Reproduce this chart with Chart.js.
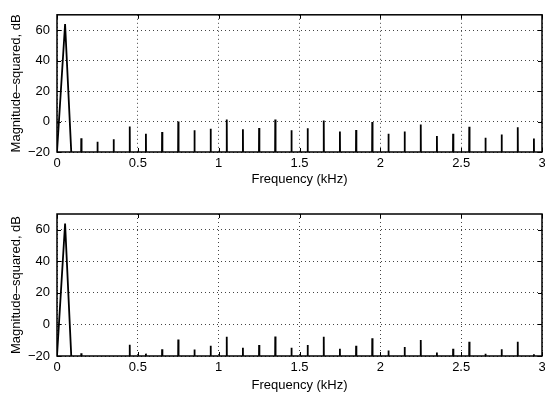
<!DOCTYPE html>
<html>
<head>
<meta charset="utf-8">
<script src="https://cdn.jsdelivr.net/npm/chart.js@4/dist/chart.umd.min.js"></script>
<style>
  html, body { margin: 0; padding: 0; background: #fff; }
  body { width: 545px; height: 396px; position: relative; overflow: hidden; }
  .box { position: absolute; left: 0; width: 545px; height: 198px; }
  #b1 { top: 0; }
  #b2 { top: 198px; }
</style>
</head>
<body>
<div class="box" id="b1"><canvas id="c1" width="545" height="198"></canvas></div>
<div class="box" id="b2"><canvas id="c2" width="545" height="198"></canvas></div>
<script>
// ---- data ----
const xTickLabels = [0, 0.5, 1, 1.5, 2, 2.5, 3];          // kHz
const yTickLabels = [-20, 0, 20, 40, 60];                 // dB
const lobeFreq = [0, 0.05, 0.1];                           // kHz, fundamental main lobe
const lobeDbTop = [-20, 64, -46];
const lobeDbBottom = [-20, 64, -46];
const harmFreq = [0.15, 0.25, 0.35, 0.45, 0.55, 0.65, 0.75, 0.85, 0.95, 1.05,
                  1.15, 1.25, 1.35, 1.45, 1.55, 1.65, 1.75, 1.85, 1.95, 2.05,
                  2.15, 2.25, 2.35, 2.45, 2.55, 2.65, 2.75, 2.85, 2.95];
const harmDbTop = [-11, -13.3, -11.6, -3.2, -8, -6.9, 0, -5.7, -4.8, 1.3,
                   -5, -4.2, 1.3, -5.7, -4.4, 0.6, -6.5, -5.5, -0.4, -8,
                   -6.5, -1.9, -9.5, -8, -3.4, -10.7, -8.6, -3.8, -11.2];
const harmDbBottom = [-18.3, -25, -25, -12.8, -18.5, -15.7, -9.6, -15.9, -13.5, -7.8,
                      -14.8, -13, -7.6, -14.8, -13, -7.8, -15.4, -13.5, -8.7, -16.5,
                      -14.3, -9.8, -17.8, -15.4, -10.9, -18.5, -15.7, -10.9, -18.9];
const yMin = -20, yMax = 70, xMin = 0, xMax = 3;
const noiseFloor = -40;        // spectrum floor (below visible range)
const spikeHalfWidth = 0.002;  // kHz

function buildSeries(lobeDb, harmDb) {
  const pts = lobeFreq.map((f, i) => ({ x: f, y: lobeDb[i] }));
  harmFreq.forEach((f, i) => {
    pts.push({ x: f - spikeHalfWidth, y: noiseFloor });
    pts.push({ x: f, y: harmDb[i] });
    pts.push({ x: f + spikeHalfWidth, y: noiseFloor });
  });
  return pts;
}

const FONT = { family: "'Liberation Sans', Arial, Helvetica, sans-serif", size: 13 };

const framePlugin = {
  id: 'frame',
  afterDatasetsDraw(chart) {
    const { ctx, chartArea: a, scales } = chart;
    ctx.save();
    ctx.strokeStyle = '#000';
    ctx.lineWidth = 1;
    const tl = 4;
    ctx.beginPath();
    xTickLabels.forEach(v => {
      const px = Math.round(scales.x.getPixelForValue(v)) + 0.5;
      ctx.moveTo(px, a.bottom); ctx.lineTo(px, a.bottom - tl);
      ctx.moveTo(px, a.top); ctx.lineTo(px, a.top + tl);
    });
    yTickLabels.forEach(v => {
      const py = Math.round(scales.y.getPixelForValue(v)) + 0.5;
      ctx.moveTo(a.left, py); ctx.lineTo(a.left + tl, py);
      ctx.moveTo(a.right, py); ctx.lineTo(a.right - tl, py);
    });
    ctx.stroke();
    ctx.lineWidth = 1.5;
    ctx.strokeRect(a.left, a.top, a.right - a.left, a.bottom - a.top);
    ctx.restore();
  }
};

function makeChart(id, lobeDb, harmDb, padTop, xAxisH, titlePadBottom) {
  return new Chart(document.getElementById(id), {
    type: 'line',
    data: {
      datasets: [{
        data: buildSeries(lobeDb, harmDb),
        borderColor: '#000',
        borderWidth: 1.8,
        pointRadius: 0,
        tension: 0,
        fill: false,
        clip: 0
      }]
    },
    options: {
      responsive: false,
      devicePixelRatio: 1,
      animation: false,
      events: [],
      parsing: false,
      layout: { padding: { top: padTop, right: 3, left: 0, bottom: 0 } },
      plugins: { legend: { display: false }, tooltip: { enabled: false } },
      scales: {
        x: {
          type: 'linear', min: xMin, max: xMax,
          afterBuildTicks: s => { s.ticks = xTickLabels.map(v => ({ value: v })); },
          afterFit: s => { s.height = xAxisH; s.paddingRight = 0; s.paddingLeft = 0; },
          ticks: { font: FONT, color: '#000', padding: 4, maxRotation: 0, autoSkip: false,
                   callback: v => String(v) },
          grid: { color: '#444', lineWidth: 1, drawTicks: false },
          border: { display: false, dash: [1, 3] },
          title: { display: true, text: 'Frequency (kHz)', font: FONT, color: '#000',
                   padding: { top: 0, bottom: titlePadBottom } }
        },
        y: {
          type: 'linear', min: yMin, max: yMax,
          afterBuildTicks: s => { s.ticks = yTickLabels.map(v => ({ value: v })); },
          afterFit: s => { s.width = 57; },
          ticks: { font: FONT, color: '#000', padding: 7, autoSkip: false,
                   callback: v => (v < 0 ? '\u2212' + Math.abs(v) : String(v)) },
          grid: { color: '#444', lineWidth: 1, drawTicks: false },
          border: { display: false, dash: [1, 3] },
          title: { display: true, text: 'Magnitude\u2013squared, dB', font: FONT, color: '#000',
                   padding: { top: 9, bottom: 0 } }
        }
      }
    },
    plugins: [framePlugin]
  });
}

makeChart('c1', lobeDbTop, harmDbTop, 9, 46, 11);
makeChart('c2', lobeDbBottom, harmDbBottom, 16, 40, 2.5);
</script>
</body>
</html>
